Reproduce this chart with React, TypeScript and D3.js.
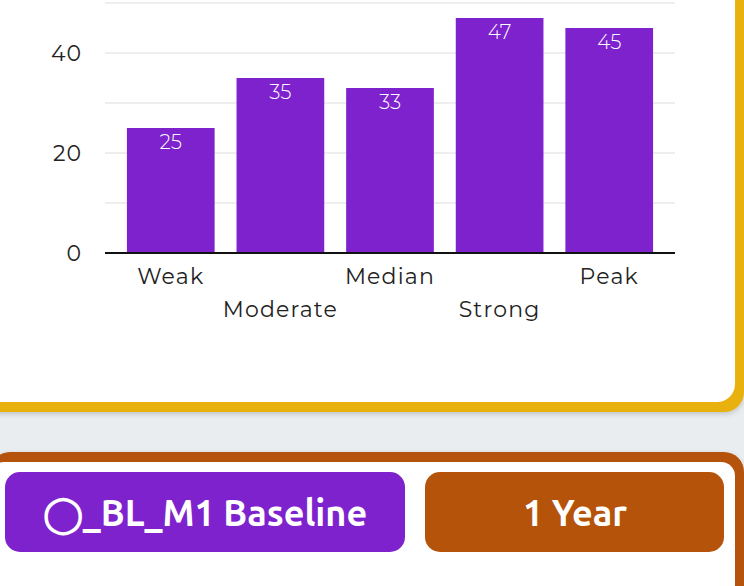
import React from "react";
import * as d3 from "d3";

const categories = ["Weak", "Moderate", "Median", "Strong", "Peak"];
const values = [25, 35, 33, 47, 45];
const yTickLabels = [0, 20, 40];
const gridValues = [0, 10, 20, 30, 40, 50];
const buttonLabels = ["◯_BL_M1 Baseline", "1 Year"];

const W = 744;
const H = 586;
const BG = "#e9edf0";
const PURPLE = "#7e22ce";
const YELLOW = "#e8b10a";
const BROWN = "#b5530a";

export default function App() {
  const x = d3.scaleBand<string>().domain(categories).range([105, 675]).paddingInner(0.2).paddingOuter(0.2);
  const y = d3.scaleLinear().domain([0, 50]).range([253, 3]);
  const font = "Montserrat, 'Open Sans', 'Noto Sans', sans-serif";
  const btnFont = "Ubuntu, 'Open Sans', 'Noto Sans', sans-serif";

  return (
    <svg width={W} height={H} style={{ position: "absolute", left: 0, top: 0, display: "block" }}>
      <defs>
        <filter id="sh" x="-5%" y="-5%" width="110%" height="115%">
          <feDropShadow dx="0" dy="2" stdDeviation="2.5" floodColor="#000" floodOpacity="0.18" />
        </filter>
      </defs>
      <rect x={0} y={0} width={W} height={H} fill={BG} />
      {/* top card */}
      <g filter="url(#sh)">
        <rect x={-30} y={-40} width={774} height={452} rx={20} fill={YELLOW} />
        <rect x={-30} y={-40} width={765} height={442} rx={18} fill="#fff" />
      </g>
      {/* bottom card */}
      <g filter="url(#sh)">
        <rect x={-10} y={452} width={754} height={200} rx={20} fill={BROWN} />
        <rect x={-10} y={462} width={745} height={200} rx={14} fill="#fff" />
      </g>

      {/* grid */}
      {gridValues.map((v) => (
        <line key={v} x1={105} x2={675} y1={y(v)} y2={y(v)} stroke="#e8e8e8" strokeWidth={1.5} />
      ))}
      {/* bars */}
      {categories.map((c, i) => (
        <g key={c}>
          <rect x={x(c)} y={y(values[i])} width={x.bandwidth()} height={y(0) - y(values[i])} fill={PURPLE} />
          <text
            x={(x(c) as number) + x.bandwidth() / 2}
            y={y(values[i]) + 21}
            textAnchor="middle"
            fill="#fff"
            fontFamily={font}
            fontWeight={300}
            fontSize={20}
          >
            {values[i]}
          </text>
        </g>
      ))}
      {/* baseline */}
      <line x1={105} x2={675} y1={y(0)} y2={y(0)} stroke="#111" strokeWidth={2} />
      {/* y labels */}
      {yTickLabels.map((v) => (
        <text key={v} x={82} y={y(v) + 8} textAnchor="end" fill="#222" fontFamily={font} fontSize={22} letterSpacing={1}>
          {v}
        </text>
      ))}
      {/* x labels */}
      {categories.map((c, i) => (
        <text
          key={c}
          x={(x(c) as number) + x.bandwidth() / 2}
          y={i % 2 === 0 ? 284 : 317}
          textAnchor="middle"
          fill="#222"
          fontFamily={font}
          fontSize={22}
          letterSpacing={1.2}
        >
          {c}
        </text>
      ))}

      {/* buttons */}
      <rect x={5} y={472} width={400} height={80} rx={15} fill={PURPLE} />
      <rect x={425} y={472} width={299} height={80} rx={15} fill={BROWN} />
      <text x={205} y={526} textAnchor="middle" fill="#fff" fontFamily={btnFont} fontWeight={700} fontSize={36}>
        {buttonLabels[0]}
      </text>
      <text x={575} y={526} textAnchor="middle" fill="#fff" fontFamily={btnFont} fontWeight={700} fontSize={36}>
        {buttonLabels[1]}
      </text>
    </svg>
  );
}
